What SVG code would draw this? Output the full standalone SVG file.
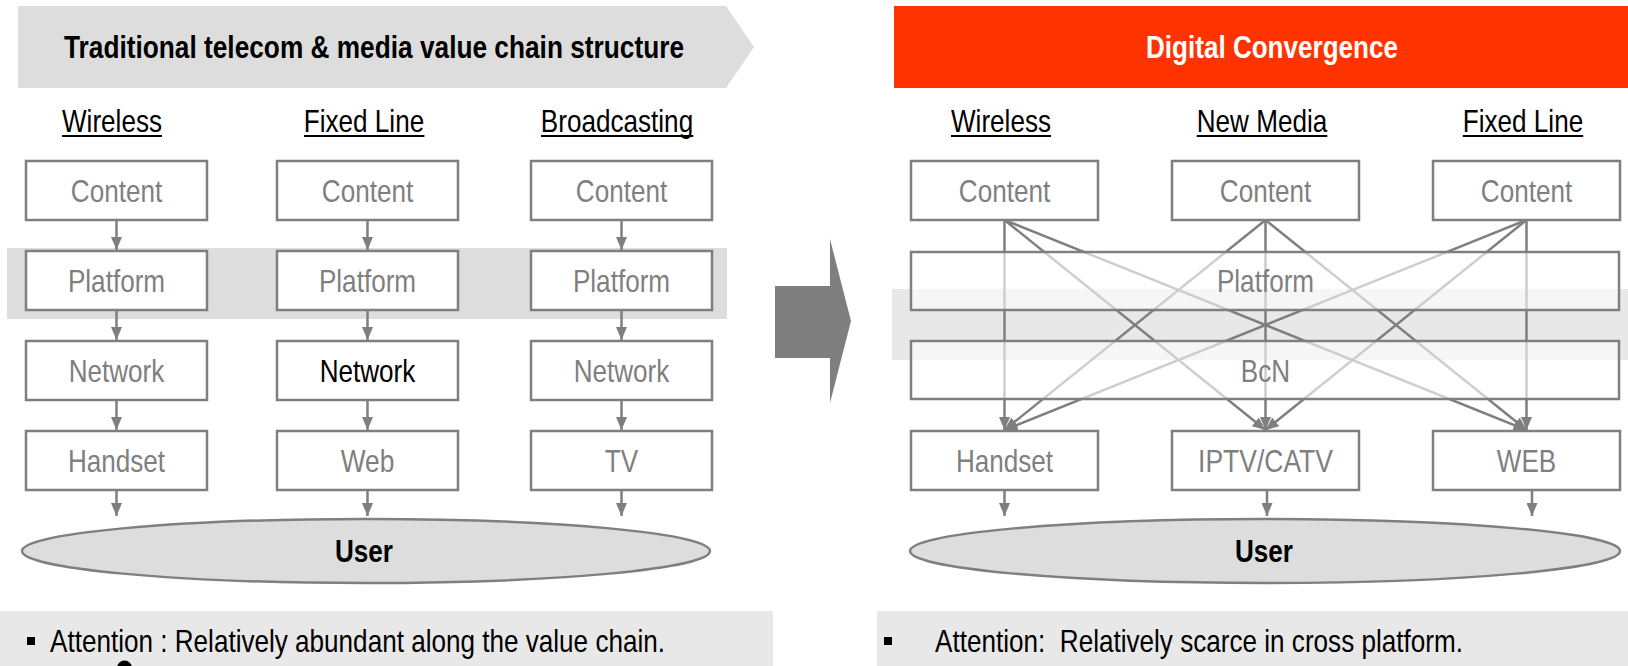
<svg xmlns="http://www.w3.org/2000/svg" width="1628" height="666" viewBox="0 0 1628 666">
<defs>
<style>
.t{font-family:"Liberation Sans Narrow","Liberation Sans",Arial,sans-serif;font-size:32px;text-anchor:middle}
.g{fill:#7f7f7f}
.k{fill:#000}
.b{font-weight:bold;font-size:31px}
.w{fill:#fff}
.box{fill:#fff;stroke:#7f7f7f;stroke-width:2.5}
.wide{fill:#fff;fill-opacity:0.62;stroke:#7f7f7f;stroke-width:2.5}
.ell{fill:#dddddd;stroke:#7f7f7f;stroke-width:2.5}
.c{stroke:#7f7f7f;stroke-width:2.5;fill:none;marker-end:url(#ah)}
.ul{stroke:#000;stroke-width:2}
</style>
<marker id="ah" markerUnits="userSpaceOnUse" markerWidth="13" markerHeight="11" refX="13" refY="5.5" orient="auto">
<path d="M0,0 L13,5.5 L0,11 z" fill="#7f7f7f"/>
</marker>
</defs>
<rect width="1628" height="666" fill="#fff"/>

<g id="left-banner">
<polygon points="18,6 726,6 754,47 726,88 18,88" fill="#dddddd"/>
<text class="t b k" x="374" y="58" textLength="620" lengthAdjust="spacingAndGlyphs">Traditional telecom &amp; media value chain structure</text>
</g>
<g id="right-banner">
<rect x="894" y="6" width="734" height="82" fill="#ff3300"/>
<text class="t b w" x="1272" y="58" textLength="252" lengthAdjust="spacingAndGlyphs">Digital Convergence</text>
</g>
<rect id="left-band" x="7" y="248" width="720" height="71" fill="#dddddd"/>
<rect id="right-band" x="892" y="289" width="736" height="71" fill="#e8e8e8"/>

<g id="big-arrow">
<polygon points="775,286 830,286 830,239 851,321 830,403 830,358 775,358" fill="#7f7f7f"/>
</g>

<g id="headers">
<text class="t k" x="112" y="132" textLength="100" lengthAdjust="spacingAndGlyphs">Wireless</text>
<line class="ul" x1="62" y1="136" x2="162" y2="136"/>
<text class="t k" x="364" y="132" textLength="120.4" lengthAdjust="spacingAndGlyphs">Fixed Line</text>
<line class="ul" x1="304" y1="136" x2="424.4" y2="136"/>
<text class="t k" x="617" y="132" textLength="152.3" lengthAdjust="spacingAndGlyphs">Broadcasting</text>
<line class="ul" x1="541" y1="136" x2="693.3" y2="136"/>
<text class="t k" x="1001" y="132" textLength="100" lengthAdjust="spacingAndGlyphs">Wireless</text>
<line class="ul" x1="951" y1="136" x2="1051" y2="136"/>
<text class="t k" x="1262" y="132" textLength="130.5" lengthAdjust="spacingAndGlyphs">New Media</text>
<line class="ul" x1="1196.7" y1="136" x2="1327.3" y2="136"/>
<text class="t k" x="1523" y="132" textLength="120.4" lengthAdjust="spacingAndGlyphs">Fixed Line</text>
<line class="ul" x1="1462.8" y1="136" x2="1583.2" y2="136"/>
</g>

<g id="connectors">
<line class="c" x1="116.5" y1="220" x2="116.5" y2="250"/>
<line class="c" x1="116.5" y1="310" x2="116.5" y2="340"/>
<line class="c" x1="116.5" y1="400" x2="116.5" y2="430"/>
<line class="c" x1="116.5" y1="490" x2="116.5" y2="516"/>
<line class="c" x1="367.5" y1="220" x2="367.5" y2="250"/>
<line class="c" x1="367.5" y1="310" x2="367.5" y2="340"/>
<line class="c" x1="367.5" y1="400" x2="367.5" y2="430"/>
<line class="c" x1="367.5" y1="490" x2="367.5" y2="516"/>
<line class="c" x1="621.5" y1="220" x2="621.5" y2="250"/>
<line class="c" x1="621.5" y1="310" x2="621.5" y2="340"/>
<line class="c" x1="621.5" y1="400" x2="621.5" y2="430"/>
<line class="c" x1="621.5" y1="490" x2="621.5" y2="516"/>

<line class="c" x1="1004.5" y1="220" x2="1004.5" y2="430"/>
<line class="c" x1="1004.5" y1="220" x2="1265.5" y2="430"/>
<line class="c" x1="1004.5" y1="220" x2="1526.5" y2="430"/>
<line class="c" x1="1265.5" y1="220" x2="1004.5" y2="430"/>
<line class="c" x1="1265.5" y1="220" x2="1265.5" y2="430"/>
<line class="c" x1="1265.5" y1="220" x2="1526.5" y2="430"/>
<line class="c" x1="1526.5" y1="220" x2="1004.5" y2="430"/>
<line class="c" x1="1526.5" y1="220" x2="1265.5" y2="430"/>
<line class="c" x1="1526.5" y1="220" x2="1526.5" y2="430"/>

<line class="c" x1="1004.5" y1="490" x2="1004.5" y2="516"/>
<line class="c" x1="1267" y1="490" x2="1267" y2="516"/>
<line class="c" x1="1532" y1="490" x2="1532" y2="516"/>
</g>

<g id="l-content-1"><rect class="box" x="26" y="161" width="181" height="59"/><text class="t g" x="116.5" y="202" textLength="91.4" lengthAdjust="spacingAndGlyphs">Content</text></g>
<g id="l-content-2"><rect class="box" x="277" y="161" width="181" height="59"/><text class="t g" x="367.5" y="202" textLength="91.4" lengthAdjust="spacingAndGlyphs">Content</text></g>
<g id="l-content-3"><rect class="box" x="531" y="161" width="181" height="59"/><text class="t g" x="621.5" y="202" textLength="91.4" lengthAdjust="spacingAndGlyphs">Content</text></g>
<g id="l-platform-1"><rect class="box" x="26" y="251" width="181" height="59"/><text class="t g" x="116.5" y="292" textLength="97.2" lengthAdjust="spacingAndGlyphs">Platform</text></g>
<g id="l-platform-2"><rect class="box" x="277" y="251" width="181" height="59"/><text class="t g" x="367.5" y="292" textLength="97.2" lengthAdjust="spacingAndGlyphs">Platform</text></g>
<g id="l-platform-3"><rect class="box" x="531" y="251" width="181" height="59"/><text class="t g" x="621.5" y="292" textLength="97.2" lengthAdjust="spacingAndGlyphs">Platform</text></g>
<g id="l-network-1"><rect class="box" x="26" y="341" width="181" height="59"/><text class="t g" x="116.5" y="382" textLength="95.7" lengthAdjust="spacingAndGlyphs">Network</text></g>
<g id="l-network-2"><rect class="box" x="277" y="341" width="181" height="59"/><text class="t k" x="367.5" y="382" textLength="95.7" lengthAdjust="spacingAndGlyphs">Network</text></g>
<g id="l-network-3"><rect class="box" x="531" y="341" width="181" height="59"/><text class="t g" x="621.5" y="382" textLength="95.7" lengthAdjust="spacingAndGlyphs">Network</text></g>
<g id="l-handset"><rect class="box" x="26" y="431" width="181" height="59"/><text class="t g" x="116.5" y="472" textLength="97.2" lengthAdjust="spacingAndGlyphs">Handset</text></g>
<g id="l-web"><rect class="box" x="277" y="431" width="181" height="59"/><text class="t g" x="367.5" y="472" textLength="53.7" lengthAdjust="spacingAndGlyphs">Web</text></g>
<g id="l-tv"><rect class="box" x="531" y="431" width="181" height="59"/><text class="t g" x="621.5" y="472" textLength="33.4" lengthAdjust="spacingAndGlyphs">TV</text></g>
<g id="l-user"><ellipse class="ell" cx="366" cy="551" rx="344" ry="32"/><text class="t b k" x="364" y="562" textLength="58" lengthAdjust="spacingAndGlyphs">User</text></g>

<g id="r-content-1"><rect class="box" x="911" y="161" width="187" height="59"/><text class="t g" x="1004.5" y="202" textLength="91.4" lengthAdjust="spacingAndGlyphs">Content</text></g>
<g id="r-content-2"><rect class="box" x="1172" y="161" width="187" height="59"/><text class="t g" x="1265.5" y="202" textLength="91.4" lengthAdjust="spacingAndGlyphs">Content</text></g>
<g id="r-content-3"><rect class="box" x="1433" y="161" width="187" height="59"/><text class="t g" x="1526.5" y="202" textLength="91.4" lengthAdjust="spacingAndGlyphs">Content</text></g>
<g id="r-platform"><rect class="wide" x="911" y="252" width="708" height="58"/><text class="t g" x="1265.5" y="292" textLength="97.2" lengthAdjust="spacingAndGlyphs">Platform</text></g>
<g id="r-bcn"><rect class="wide" x="911" y="341" width="708" height="58"/><text class="t g" x="1265.5" y="382" textLength="49.3" lengthAdjust="spacingAndGlyphs">BcN</text></g>
<g id="r-handset"><rect class="box" x="911" y="431" width="187" height="59"/><text class="t g" x="1004.5" y="472" textLength="97.2" lengthAdjust="spacingAndGlyphs">Handset</text></g>
<g id="r-iptv"><rect class="box" x="1172" y="431" width="187" height="59"/><text class="t g" x="1265.5" y="472" textLength="134.9" lengthAdjust="spacingAndGlyphs">IPTV/CATV</text></g>
<g id="r-web"><rect class="box" x="1433" y="431" width="187" height="59"/><text class="t g" x="1526.5" y="472" textLength="59.5" lengthAdjust="spacingAndGlyphs">WEB</text></g>
<g id="r-user"><ellipse class="ell" cx="1265" cy="551" rx="355" ry="32"/><text class="t b k" x="1264" y="562" textLength="58" lengthAdjust="spacingAndGlyphs">User</text></g>

<g id="left-note">
<rect x="0" y="611" width="773" height="55" fill="#e8e8e8"/>
<rect x="27" y="637" width="8" height="8" fill="#000"/>
<text class="t k" x="50" y="652" style="text-anchor:start" textLength="615" lengthAdjust="spacingAndGlyphs">Attention : Relatively abundant along the value chain.</text>
<circle cx="124.5" cy="668" r="7.5" fill="#000"/>
</g>
<g id="right-note">
<rect x="877" y="611" width="751" height="55" fill="#e8e8e8"/>
<rect x="884" y="637" width="8" height="8" fill="#000"/>
<text class="t k" x="935" y="652" style="text-anchor:start;white-space:pre" textLength="528" lengthAdjust="spacingAndGlyphs">Attention:  Relatively scarce in cross platform.</text>
</g>
</svg>
